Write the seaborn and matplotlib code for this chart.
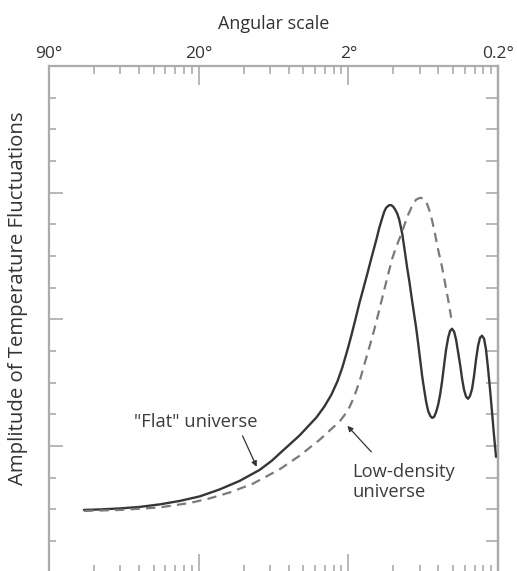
import numpy as np
import pandas as pd
import matplotlib
matplotlib.use("Agg")
import matplotlib.pyplot as plt
from matplotlib.ticker import LogLocator, NullFormatter, FixedLocator, MultipleLocator
import seaborn as sns

# ---- data: log10 of multipole l, relative amplitude ----
flat_logl = [0.233, 0.340, 0.473, 0.607, 0.740, 0.873, 1.007, 1.140, 1.273, 1.407,
             1.487, 1.560, 1.673, 1.787, 1.840, 1.887, 1.927, 1.960, 1.993, 2.020,
             2.047, 2.073, 2.100, 2.127, 2.153, 2.187, 2.207, 2.227, 2.240, 2.253,
             2.273, 2.287, 2.300, 2.313, 2.327, 2.340, 2.360, 2.373, 2.393, 2.407,
             2.427, 2.440, 2.453, 2.467, 2.480, 2.493, 2.507, 2.520, 2.533, 2.547,
             2.560, 2.573, 2.587, 2.600, 2.613, 2.627, 2.640, 2.653, 2.667, 2.680,
             2.693, 2.707, 2.720, 2.733, 2.747, 2.760, 2.773, 2.787, 2.800, 2.813,
             2.827, 2.840, 2.853, 2.867, 2.880, 2.893, 2.907, 2.920, 2.933, 2.947,
             2.960, 2.973, 2.987]
flat_amp = [0.494, 0.498, 0.506, 0.518, 0.538, 0.565, 0.601, 0.656, 0.723, 0.810,
            0.881, 0.960, 1.081, 1.225, 1.311, 1.405, 1.509, 1.620, 1.753, 1.871,
            1.998, 2.123, 2.241, 2.360, 2.478, 2.628, 2.723, 2.802, 2.850, 2.881,
            2.901, 2.901, 2.889, 2.866, 2.834, 2.787, 2.676, 2.573, 2.407, 2.304,
            2.138, 2.036, 1.933, 1.806, 1.680, 1.553, 1.443, 1.348, 1.277, 1.237,
            1.221, 1.229, 1.269, 1.324, 1.403, 1.514, 1.640, 1.759, 1.854, 1.909,
            1.925, 1.901, 1.838, 1.743, 1.640, 1.530, 1.443, 1.387, 1.372, 1.395,
            1.451, 1.553, 1.680, 1.791, 1.854, 1.870, 1.846, 1.759, 1.617, 1.443,
            1.269, 1.087, 0.913]

low_logl = [0.233, 0.473, 0.740, 0.940, 1.073, 1.207, 1.360, 1.540, 1.673, 1.807,
            1.873, 1.940, 1.973, 2.007, 2.033, 2.053, 2.080, 2.100, 2.120, 2.147,
            2.173, 2.207, 2.240, 2.267, 2.293, 2.320, 2.347, 2.373, 2.400, 2.427,
            2.453, 2.480, 2.500, 2.520, 2.540, 2.560, 2.580, 2.600, 2.627, 2.647,
            2.667, 2.687]
low_amp = [0.486, 0.494, 0.514, 0.549, 0.585, 0.632, 0.700, 0.814, 0.921, 1.047,
           1.119, 1.190, 1.241, 1.304, 1.372, 1.435, 1.530, 1.613, 1.696, 1.806,
           1.917, 2.075, 2.233, 2.360, 2.478, 2.573, 2.652, 2.739, 2.826, 2.897,
           2.945, 2.960, 2.953, 2.929, 2.866, 2.779, 2.668, 2.549, 2.407, 2.281,
           2.154, 2.012]

angle_ticks = [1, 10, 100, 1000]
angle_labels = ["90°", "20°", "2°", "0.2°"]

flat_df = pd.DataFrame({"l": 10 ** np.array(flat_logl), "amp": flat_amp})
low_df = pd.DataFrame({"l": 10 ** np.array(low_logl), "amp": low_amp})

sns.set_theme(style="white")
plt.rcParams["font.family"] = ["Open Sans", "DejaVu Sans"]

W, H = 517, 571
fig = plt.figure(figsize=(W / 100, H / 100), dpi=100)
ax = fig.add_axes([49 / W, 1 - 572.5 / H, (498 - 49) / W, (572.5 - 66) / H])

line_col = "#363636"
dash_col = "#7a7a7a"
frame_col = "#acacac"
text_col = "#3c3c3c"

sns.lineplot(data=flat_df, x="l", y="amp", ax=ax, color=line_col, lw=1.7,
             sort=False, estimator=None)
sns.lineplot(data=low_df, x="l", y="amp", ax=ax, color=dash_col, lw=1.6,
             sort=False, estimator=None)
ax.lines[0].set_solid_joinstyle("round")
ax.lines[1].set_linestyle((0, (4.2, 2.8)))
ax.lines[1].set_dash_joinstyle("round")

ax.set_xscale("log")
ax.set_xlim(1, 1000)
ax.set_ylim(0, 4)

for s in ax.spines.values():
    s.set_color(frame_col)
    s.set_linewidth(1.6)

# x axis: labels on top, ticks both sides
ax.xaxis.set_major_locator(FixedLocator(angle_ticks))
ax.set_xticklabels(angle_labels)
ax.xaxis.set_minor_locator(LogLocator(base=10, subs=np.arange(2, 10)))
ax.xaxis.set_minor_formatter(NullFormatter())
ax.tick_params(axis="x", which="both", direction="in", top=True, bottom=True,
               labeltop=True, labelbottom=False, color=frame_col, width=1.2,
               labelsize=12.5, labelcolor="#333333", pad=3)
ax.tick_params(axis="x", which="major", length=14)
ax.tick_params(axis="x", which="minor", length=6)
ax.xaxis.set_label_position("top")
ax.set_xlabel("Angular scale", fontsize=13, color="#333333", labelpad=12)

# y axis
ax.yaxis.set_major_locator(MultipleLocator(1))
ax.yaxis.set_minor_locator(MultipleLocator(0.25))
ax.tick_params(axis="y", which="both", direction="in", left=True, right=False,
               labelleft=False, color=frame_col, width=1.2)
ax.tick_params(axis="y", which="major", length=10)
ax.tick_params(axis="y", which="minor", length=5)
ax.set_ylabel("")

sec = ax.secondary_yaxis("right")
sec.yaxis.set_major_locator(MultipleLocator(0.25))
sec.tick_params(axis="y", which="both", direction="in", length=9, width=1.2,
                color=frame_col, labelright=False)
sec.spines["right"].set_color(frame_col)
sec.spines["right"].set_linewidth(1.6)

fig.text(18 / W, 1 - 298 / H, "Amplitude of Temperature Fluctuations",
         rotation=90, ha="center", va="center", fontsize=14.7, color="#333333")

# annotations
ax.text(9.55, 1.19, '"Flat" universe', ha="center", va="center",
        fontsize=13.2, color=text_col)
ax.annotate("", xy=(24.4, 0.835), xytext=(19.65, 1.079),
            arrowprops=dict(arrowstyle="-|>", color="#333333", lw=0.9,
                            mutation_scale=8, shrinkA=0, shrinkB=0))
ax.text(106.3, 0.715, "Low-density\nuniverse", ha="left", va="center",
        fontsize=13.2, color=text_col, linespacing=1.2)
ax.annotate("", xy=(98.5, 1.158), xytext=(142.3, 0.953),
            arrowprops=dict(arrowstyle="-|>", color="#333333", lw=0.9,
                            mutation_scale=8, shrinkA=0, shrinkB=0))

fig.savefig("out.png", dpi=100, facecolor="white")
